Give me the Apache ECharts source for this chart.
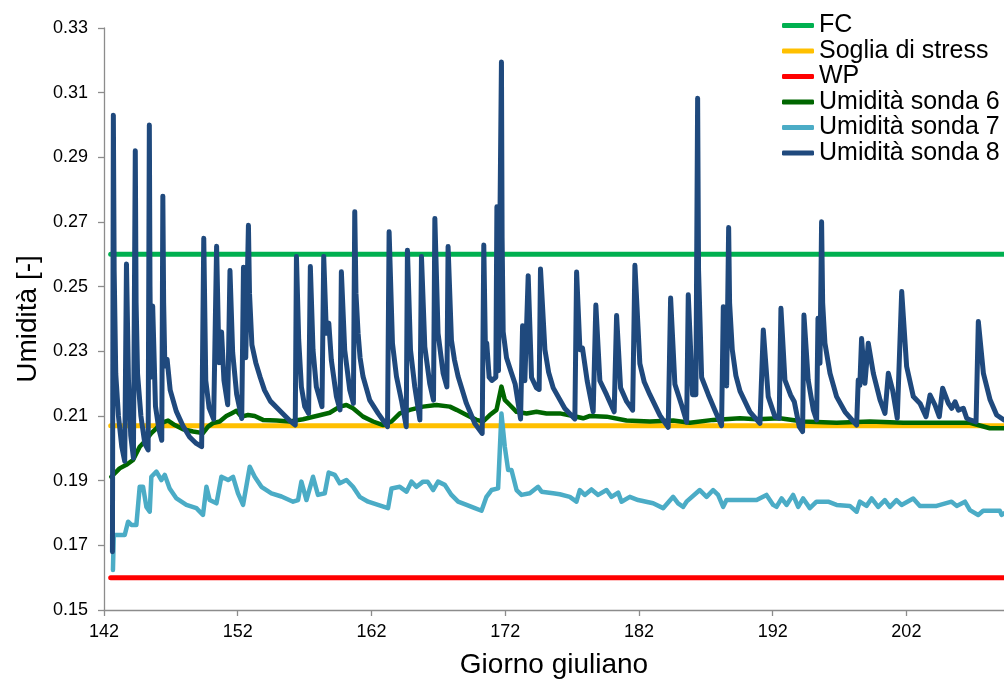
<!DOCTYPE html>
<html>
<head>
<meta charset="utf-8">
<script src="https://cdn.jsdelivr.net/npm/echarts@6/dist/echarts.min.js"></script>
<style>
  html, body { margin: 0; padding: 0; background: #fff; }
  #chart { width: 1004px; height: 684px; }
</style>
</head>
<body>
<div id="chart"></div>
<script>
// Soil-moisture readings per Julian day: [giorno, umidità]
const sonda6 = [
  [142.55,0.1912],[143.17,0.1938],[143.67,0.1949],[144.17,0.1964],[144.67,0.2005],[145.04,0.2021],
  [145.54,0.2047],[145.92,0.2062],[146.29,0.2079],[146.79,0.2086],[147.29,0.2072],[147.91,0.2059],
  [148.66,0.2052],[149.40,0.2047],[149.78,0.2067],[150.15,0.2078],[150.65,0.2083],[151.15,0.2100],
  [151.53,0.2108],[151.90,0.2116],[152.28,0.2098],[152.77,0.2103],[153.27,0.2100],[153.89,0.2088],
  [154.90,0.2086],[155.89,0.2083],[156.88,0.2090],[157.89,0.2100],[158.88,0.2110],[159.63,0.2129],
  [160.13,0.2134],[160.62,0.2124],[161.37,0.2098],[162.12,0.2083],[162.87,0.2072],[163.50,0.2083],
  [164.12,0.2108],[164.87,0.2119],[165.86,0.2129],[166.86,0.2134],[167.86,0.2129],[168.36,0.2119],
  [169.11,0.2103],[169.85,0.2088],[170.35,0.2083],[170.85,0.2103],[171.35,0.2119],[171.72,0.2191],
  [171.97,0.2150],[172.35,0.2134],[172.85,0.2113],[173.60,0.2108],[174.34,0.2113],[175.09,0.2108],
  [176.08,0.2108],[177.08,0.2100],[177.83,0.2093],[178.33,0.2100],[179.58,0.2098],[181.07,0.2086],
  [182.82,0.2083],[184.56,0.2086],[185.81,0.2079],[187.55,0.2088],[189.55,0.2093],[190.80,0.2090],
  [192.54,0.2093],[194.28,0.2083],[196.78,0.2079],[199.27,0.2083],[201.76,0.2079],[204.26,0.2079],
  [206.75,0.2079],[208.24,0.2062],[209.30,0.2062]
];

const sonda7 = [
  [142.67,0.1624],[142.73,0.1732],[143.55,0.1732],[143.80,0.1773],[144.05,0.1763],[144.42,0.1763],
  [144.67,0.1881],[144.92,0.1881],[145.17,0.1819],[145.42,0.1804],[145.54,0.1912],[145.92,0.1928],
  [146.29,0.1902],[146.54,0.1918],[146.91,0.1876],[147.42,0.1845],[148.16,0.1825],[148.91,0.1815],
  [149.40,0.1794],[149.66,0.1881],[149.90,0.1840],[150.41,0.1830],[150.78,0.1912],[151.28,0.1902],
  [151.65,0.1912],[152.02,0.1861],[152.40,0.1825],[152.90,0.1943],[153.27,0.1912],[153.77,0.1881],
  [154.52,0.1861],[155.27,0.1851],[156.14,0.1835],[156.51,0.1840],[156.76,0.1897],[157.14,0.1840],
  [157.63,0.1912],[158.00,0.1856],[158.51,0.1861],[158.80,0.1925],[159.26,0.1918],[159.63,0.1892],
  [160.13,0.1902],[160.62,0.1881],[161.12,0.1850],[161.75,0.1835],[162.49,0.1825],[163.24,0.1815],
  [163.50,0.1876],[164.12,0.1881],[164.62,0.1866],[164.99,0.1897],[165.37,0.1881],[165.86,0.1897],
  [166.20,0.1897],[166.61,0.1871],[166.98,0.1897],[167.48,0.1887],[167.98,0.1856],[168.48,0.1835],
  [169.11,0.1825],[169.73,0.1815],[170.23,0.1807],[170.60,0.1850],[170.98,0.1871],[171.47,0.1876],
  [171.72,0.2108],[171.97,0.2005],[172.22,0.1933],[172.47,0.1933],[172.85,0.1871],[173.22,0.1856],
  [173.84,0.1861],[174.46,0.1881],[174.72,0.1866],[175.58,0.1861],[176.08,0.1858],[176.83,0.1850],
  [177.33,0.1835],[177.58,0.1871],[177.95,0.1856],[178.45,0.1873],[178.95,0.1856],[179.58,0.1871],
  [179.95,0.1850],[180.45,0.1863],[180.70,0.1835],[181.32,0.1850],[181.94,0.1840],[183.06,0.1830],
  [183.81,0.1815],[184.56,0.1850],[184.93,0.1830],[185.31,0.1819],[185.56,0.1835],[186.55,0.1871],
  [187.06,0.1850],[187.55,0.1871],[187.92,0.1856],[188.30,0.1819],[188.55,0.1840],[190.80,0.1840],
  [191.54,0.1856],[192.04,0.1825],[192.29,0.1819],[192.67,0.1845],[193.04,0.1825],[193.53,0.1856],
  [193.91,0.1819],[194.28,0.1845],[194.78,0.1815],[195.28,0.1835],[196.15,0.1835],[196.78,0.1825],
  [197.77,0.1822],[198.28,0.1804],[198.52,0.1835],[199.02,0.1822],[199.40,0.1845],[199.89,0.1819],
  [200.39,0.1840],[200.77,0.1819],[201.26,0.1840],[201.64,0.1825],[202.51,0.1845],[203.01,0.1822],
  [204.26,0.1822],[205.38,0.1835],[205.76,0.1822],[206.38,0.1835],[206.75,0.1809],[207.37,0.1794],
  [207.74,0.1807],[208.99,0.1807],[209.12,0.1794],[209.30,0.1799]
];

const sonda8 = [
  [142.63,0.1680],[142.70,0.3030],[142.76,0.2550],[142.88,0.2230],[143.08,0.2100],[143.33,0.2005],
  [143.55,0.1960],[143.68,0.2570],[143.83,0.2210],[144.00,0.2040],[144.20,0.1970],[144.34,0.2920],
  [144.40,0.2450],[144.51,0.2230],[144.76,0.2100],[145.05,0.2015],[145.30,0.1995],[145.39,0.3000],
  [145.44,0.2500],[145.50,0.2220],[145.64,0.2440],[145.85,0.2130],[146.10,0.2060],[146.32,0.2025],
  [146.40,0.2780],[146.46,0.2450],[146.55,0.2255],[146.72,0.2275],[146.95,0.2180],[147.40,0.2115],
  [147.90,0.2070],[148.40,0.2035],[148.90,0.2015],[149.30,0.2005],[149.46,0.2650],[149.61,0.2210],
  [149.86,0.2125],[150.20,0.2090],[150.42,0.2625],[150.60,0.2265],[150.79,0.2360],[150.97,0.2210],
  [151.25,0.2135],[151.42,0.2550],[151.62,0.2297],[151.92,0.2167],[152.30,0.2092],[152.43,0.2560],
  [152.60,0.2280],[152.80,0.2690],[152.88,0.2480],[153.06,0.2320],[153.35,0.2265],[153.68,0.2220],
  [154.00,0.2180],[154.44,0.2146],[155.19,0.2115],[155.90,0.2085],[156.30,0.2072],[156.39,0.2593],
  [156.56,0.2335],[156.76,0.2190],[157.01,0.2129],[157.30,0.2108],[157.43,0.2562],[157.63,0.2304],
  [157.88,0.2190],[158.30,0.2129],[158.43,0.2593],[158.63,0.2356],[158.81,0.2387],[159.00,0.2273],
  [159.38,0.2160],[159.65,0.2119],[159.75,0.2546],[160.00,0.2304],[160.38,0.2180],[160.65,0.2139],
  [160.75,0.2732],[160.84,0.2480],[161.00,0.2356],[161.15,0.2280],[161.37,0.2222],[161.87,0.2149],
  [162.50,0.2108],[163.20,0.2067],[163.32,0.2670],[163.57,0.2325],[163.87,0.2222],[164.24,0.2149],
  [164.60,0.2067],[164.69,0.2613],[164.92,0.2304],[165.24,0.2190],[165.62,0.2088],[165.74,0.2593],
  [165.99,0.2314],[166.36,0.2200],[166.64,0.2149],[166.74,0.2711],[166.98,0.2356],[167.36,0.2232],
  [167.64,0.2190],[167.73,0.2624],[167.98,0.2335],[168.20,0.2275],[168.48,0.2222],[169.10,0.2139],
  [169.73,0.2077],[170.28,0.2046],[170.40,0.2629],[170.52,0.2310],[170.62,0.2325],[170.80,0.2220],
  [171.00,0.2210],[171.30,0.2220],[171.38,0.2747],[171.50,0.2240],[171.64,0.2240],[171.72,0.3195],
  [171.77,0.2650],[171.85,0.2360],[172.10,0.2280],[172.45,0.2235],[172.75,0.2198],[173.15,0.2091],
  [173.30,0.2379],[173.47,0.2209],[173.72,0.2534],[173.97,0.2219],[174.34,0.2187],[174.54,0.2182],
  [174.64,0.2555],[174.97,0.2305],[175.25,0.2235],[175.59,0.2187],[176.46,0.2123],[177.21,0.2091],
  [177.34,0.2545],[177.59,0.2305],[177.78,0.2310],[178.13,0.2209],[178.58,0.2113],[178.78,0.2443],
  [179.08,0.2209],[179.58,0.2166],[180.15,0.2113],[180.33,0.2411],[180.63,0.2187],[181.08,0.2145],
  [181.53,0.2118],[181.70,0.2566],[182.07,0.2262],[182.40,0.2205],[182.82,0.2166],[183.57,0.2102],
  [184.19,0.2065],[184.37,0.2465],[184.69,0.2198],[185.19,0.2134],[185.57,0.2081],[185.69,0.2475],
  [186.01,0.2166],[186.26,0.2166],[186.39,0.3083],[186.46,0.2550],[186.69,0.2219],[187.19,0.2166],
  [187.68,0.2118],[188.18,0.2070],[188.31,0.2438],[188.56,0.2193],[188.71,0.2683],[188.78,0.2450],
  [188.98,0.2305],[189.25,0.2225],[189.56,0.2177],[190.30,0.2113],[191.05,0.2077],[191.30,0.2366],
  [191.67,0.2160],[192.17,0.2098],[192.49,0.2093],[192.62,0.2433],[192.92,0.2211],[193.34,0.2165],
  [193.62,0.2144],[193.99,0.2067],[194.24,0.2052],[194.34,0.2412],[194.66,0.2211],[195.04,0.2119],
  [195.29,0.2088],[195.39,0.2402],[195.54,0.2263],[195.66,0.2701],[195.74,0.2450],[195.91,0.2325],
  [196.29,0.2232],[196.78,0.2160],[197.41,0.2113],[198.28,0.2072],[198.40,0.2211],[198.52,0.2195],
  [198.65,0.2340],[198.90,0.2201],[199.15,0.2325],[199.53,0.2232],[200.03,0.2150],[200.40,0.2108],
  [200.65,0.2232],[200.97,0.2180],[201.32,0.2093],[201.65,0.2485],[202.02,0.2253],[202.52,0.2160],
  [203.02,0.2139],[203.47,0.2098],[203.77,0.2165],[204.14,0.2134],[204.46,0.2098],[204.71,0.2186],
  [205.14,0.2139],[205.39,0.2124],[205.64,0.2144],[205.89,0.2118],[206.26,0.2124],[206.51,0.2093],
  [206.76,0.2088],[207.21,0.2082],[207.38,0.2392],[207.76,0.2232],[208.26,0.2150],[208.75,0.2103],
  [209.30,0.2088]
];

// Threshold levels (horizontal reference lines) and the span they cover
const refDays = [142.5, 209.3];
const fcLevel = 0.26;
const stressLevel = 0.207;
const wpLevel = 0.16;

// Axis ranges / ticks
const xMin = 142, xMax = 209.3, xStep = 10;
const yMin = 0.15, yMax = 0.33, yStep = 0.02;

const seriesNames = ['FC', 'Soglia di stress', 'WP', 'Umidità sonda 6', 'Umidità sonda 7', 'Umidità sonda 8'];
const seriesColors = ['#00B050', '#FFC000', '#FF0000', '#006600', '#4BACC6', '#1F497D'];

const flat = (level) => refDays.map(d => [d, level]);
const lineData = [flat(fcLevel), flat(stressLevel), flat(wpLevel), sonda6, sonda7, sonda8];
const widths = [5, 5, 5, 4.5, 4.5, 5];

const font = '"Liberation Sans", Arial, sans-serif';
const chart = echarts.init(document.getElementById('chart'), null, { renderer: 'canvas' });

chart.setOption({
  animation: false,
  backgroundColor: '#ffffff',
  textStyle: { fontFamily: font },
  grid: { left: 104, right: 0, top: 28, bottom: 74, containLabel: false },
  legend: {
    orient: 'vertical',
    left: 777,
    top: 8,
    itemWidth: 32,
    itemHeight: 5,
    itemGap: 0.5,
    icon: 'roundRect',
    textStyle: { fontFamily: font, fontSize: 25, color: '#000' },
    data: seriesNames.map((n, i) => ({ name: n, itemStyle: { color: seriesColors[i] } }))
  },
  xAxis: {
    type: 'value',
    min: xMin,
    max: xMax,
    interval: xStep,
    name: 'Giorno giuliano',
    nameLocation: 'middle',
    nameGap: 41,
    nameTextStyle: { fontFamily: font, fontSize: 28, color: '#000' },
    axisLine: { show: true, lineStyle: { color: '#8c8c8c', width: 1.3 } },
    axisTick: { show: true, length: 6, lineStyle: { color: '#8c8c8c', width: 1.3 } },
    axisLabel: { fontFamily: font, fontSize: 18, color: '#000', margin: 13, showMaxLabel: false,
      formatter: v => String(Math.round(v)) },
    splitLine: { show: false }
  },
  yAxis: {
    type: 'value',
    min: yMin,
    max: yMax,
    interval: yStep,
    name: 'Umidità [-]',
    nameLocation: 'middle',
    nameGap: 62,
    nameRotate: 90,
    nameTextStyle: { fontFamily: font, fontSize: 28, color: '#000' },
    axisLine: { show: true, lineStyle: { color: '#8c8c8c', width: 1.3 } },
    axisTick: { show: true, length: 6, lineStyle: { color: '#8c8c8c', width: 1.3 } },
    axisLabel: { fontFamily: font, fontSize: 18, color: '#000', margin: 16,
      formatter: v => v.toFixed(2) },
    splitLine: { show: false }
  },
  series: seriesNames.map((n, i) => ({
    name: n,
    type: 'line',
    data: lineData[i],
    showSymbol: false,
    symbol: 'none',
    clip: true,
    color: seriesColors[i],
    lineStyle: { color: seriesColors[i], width: widths[i], cap: 'round', join: 'round' },
    emphasis: { disabled: true },
    z: 2 + i
  }))
});
</script>
</body>
</html>
